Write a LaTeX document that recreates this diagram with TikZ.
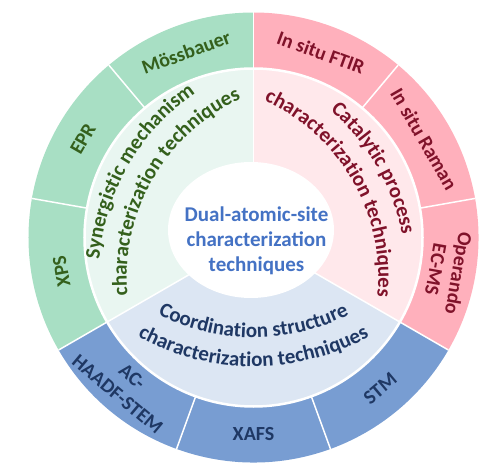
\documentclass[tikz,border=0pt]{standalone}
\usepackage{fontspec}
\setmainfont{Carlito}
\usetikzlibrary{decorations.text}
\definecolor{gOut}{RGB}{168,223,196}
\definecolor{gIn}{RGB}{233,246,241}
\definecolor{gTxt}{RGB}{52,96,28}
\definecolor{pOut}{RGB}{255,176,188}
\definecolor{pIn}{RGB}{255,232,235}
\definecolor{pTxt}{RGB}{128,18,42}
\definecolor{bOut}{RGB}{120,157,210}
\definecolor{bIn}{RGB}{220,230,243}
\definecolor{bTxt}{RGB}{31,56,100}
\definecolor{cTxt}{RGB}{68,114,196}
\newcommand\arcfont{\bfseries\fontsize{21}{24}\selectfont}
\tikzset{
  olbl/.style={font=\bfseries\fontsize{20}{23}\selectfont, align=center, inner sep=0pt},
  sep/.style={white, line width=1.5pt},
  arctext/.style 2 args={decorate, decoration={text along path, text align=center,
      text color=#1, text={|\arcfont|#2}}}
}

\begin{document}
\begin{tikzpicture}[x=1pt,y=1pt]
  \useasboundingbox (-253.5,-230.5) rectangle (246.5,237.5);
  % Rings: green, blue, pink
  \foreach \a/\cin/\cout in {90/gIn/gOut, 210/bIn/bOut, 330/pIn/pOut} {
    \fill[\cout] (\a:169) -- (\a:225) arc[start angle=\a, delta angle=120, radius=225]
      -- ({\a+120}:169) arc[start angle=\a+120, delta angle=-120, radius=169] -- cycle;
    \fill[\cin] (0,0) -- (\a:169) arc[start angle=\a, delta angle=120, radius=169] -- cycle;
  }
  % Separators
  \foreach \a in {90,130,...,410}
    \draw[sep] (\a:169) -- (\a:225);
  \foreach \a in {90,210,330}
    \draw[sep] (0,0) -- (\a:169);
  \draw[white, line width=2.5pt] (0,0) circle (169);
  % Centre
  \fill[white] (-2.5,7.5) ellipse (83 and 68);
  \node[font=\bfseries\fontsize{21}{25}\selectfont, text=cTxt, align=center] (core) at (3,-3)
    {Dual-atomic-site\\characterization\\techniques};
  % Outer labels
  \node[olbl, gTxt, rotate=20] (mossbauer) at (110:197) {Mössbauer};
  \node[olbl, gTxt, rotate=60] (epr) at (150:197) {EPR};
  \node[olbl, gTxt, rotate=100] (xps) at (190:195) {XPS};
  \node[olbl, pTxt, rotate=-20] (ftir) at (70:197) {In situ FTIR};
  \node[olbl, pTxt, rotate=-60] (raman) at (30:197) {In situ Raman};
  \node[olbl, pTxt, rotate=-100] (ecms) at (-10:197) {Operando\\EC-MS};
  \node[olbl, bTxt, rotate=-40] (haadf) at (229:196) {AC-\\HAADF-STEM};
  \node[olbl, bTxt] (xafs) at (270:197) {XAFS};
  \node[olbl, bTxt, rotate=40] (stm) at (310:197) {STM};
  % Inner labels along arcs
  \path[arctext={gTxt}{Synergistic mechanism}] (330:80) ++(195:224) arc[start angle=195, end angle=105, radius=224];
  \path[arctext={gTxt}{characterization techniques}] (330:80) ++(195:196) arc[start angle=195, end angle=105, radius=196];
  \path[arctext={pTxt}{Catalytic process}] (210:80) ++(75:222) arc[start angle=75, end angle=-15, radius=222];
  \path[arctext={pTxt}{characterization techniques}] (210:80) ++(75:194) arc[start angle=75, end angle=-15, radius=194];
  \path[arctext={bTxt}{Coordination structure}] (0,110) ++(225:210) arc[start angle=225, end angle=315, radius=210];
  \path[arctext={bTxt}{characterization techniques}] (0,110) ++(225:239) arc[start angle=225, end angle=315, radius=239];
\end{tikzpicture}
\end{document}
